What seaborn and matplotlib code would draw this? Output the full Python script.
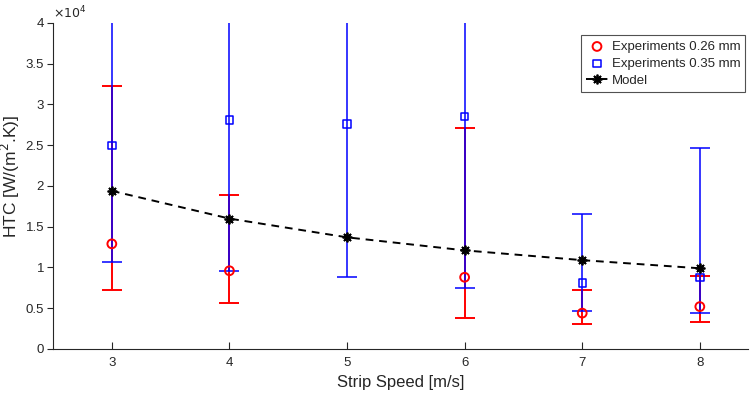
import numpy as np
import pandas as pd
import matplotlib
matplotlib.use("Agg")
import matplotlib.pyplot as plt
import seaborn as sns

# ---- data (HTC values in W/(m^2.K)) ----
speed = [3, 4, 5, 6, 7, 8]

exp026 = [12900, 9600, np.nan, 8800, 4400, 5200]
exp026_low = [7200, 5700, np.nan, 3800, 3100, 3300]
exp026_high = [32300, 18900, np.nan, 27100, 7200, 9000]

exp035 = [25000, 28100, 27600, 28500, 8100, 8800]
exp035_low = [10700, 9600, 8800, 7500, 4700, 4400]
exp035_high = [45000, 45000, 45000, 45000, 16600, 24700]

model = [19400, 16000, 13700, 12100, 10900, 9900]

yticks = [0, 0.5, 1, 1.5, 2, 2.5, 3, 3.5, 4]

sns.set_theme(style="white")
plt.rcParams['font.family'] = ['Liberation Sans', 'DejaVu Sans']

fig = plt.figure(figsize=(7.5, 3.95), dpi=100)
ax = fig.add_axes([0.0707, 0.1165, 0.9267, 0.8253])

s = np.array(speed, dtype=float)
e1 = np.array(exp026); e2 = np.array(exp035)
err1 = np.vstack([e1 - np.array(exp026_low), np.array(exp026_high) - e1])
err2 = np.vstack([e2 - np.array(exp035_low), np.array(exp035_high) - e2])

red = '#ff0000'
blue = '#0000ff'

ax.errorbar(s, e1, yerr=err1, fmt='none', ecolor=red, elinewidth=1.4,
            capsize=7.5, capthick=1.4, zorder=2)
ax.errorbar(s, e2, yerr=err2, fmt='none', ecolor=blue, elinewidth=1.1,
            capsize=7.5, capthick=1.1, zorder=3)

df1 = pd.DataFrame({'speed': speed, 'htc': exp026})
df2 = pd.DataFrame({'speed': speed, 'htc': exp035})
dfm = pd.DataFrame({'speed': speed, 'htc': model})

sns.scatterplot(data=df1, x='speed', y='htc', ax=ax, marker='o', s=40,
                facecolor='none', edgecolor=red, linewidth=1.4,
                label='Experiments 0.26 mm', zorder=4)
sns.scatterplot(data=df2, x='speed', y='htc', ax=ax, marker='s', s=28,
                facecolor='none', edgecolor=blue, linewidth=1.1,
                label='Experiments 0.35 mm', zorder=4)
sns.lineplot(data=dfm, x='speed', y='htc', ax=ax, color='black',
             linestyle=(0, (4, 3)), linewidth=1.4, marker=(8, 2, 0),
             markersize=7, markeredgewidth=1.3, markeredgecolor='black',
             label='Model', zorder=5)

ax.set_xlim(2.5, 8.41)
ax.set_ylim(0, 40000)
ax.set_xticks(speed)
ax.set_xticklabels([str(v) for v in speed])
ax.set_yticks([v * 1e4 for v in yticks])
ax.set_yticklabels([('%g' % v) for v in yticks])

tc = '#262626'
ax.tick_params(axis='x', direction='in', length=5, width=0.8, colors=tc,
               labelsize=9.5, pad=6, bottom=True)
ax.tick_params(axis='y', direction='out', length=4.5, width=0.8, colors=tc,
               labelsize=9.5, pad=2, left=True)
for side in ['top', 'right']:
    ax.spines[side].set_visible(False)
for side in ['left', 'bottom']:
    ax.spines[side].set_color(tc)
    ax.spines[side].set_linewidth(0.8)

ax.set_xlabel('Strip Speed [m/s]', fontsize=12, color=tc, labelpad=4)
ax.set_ylabel(r'HTC [W/(m$^2$.K)]', fontsize=12.5, color=tc)
ax.yaxis.set_label_coords(-0.045, 0.53)
ax.text(0.0, 1.005, r'$\times10^4$', transform=ax.transAxes, fontsize=9,
        color=tc, ha='left', va='bottom')

leg = ax.legend(loc='upper right', bbox_to_anchor=(1.0, 0.97), fontsize=9.5,
                frameon=True, fancybox=False, handlelength=1.6,
                borderpad=0.4, labelspacing=0.35, handletextpad=0.3,
                borderaxespad=0.2)
leg.get_frame().set_edgecolor('#262626')
leg.get_frame().set_linewidth(0.8)

fig.savefig('out.png', dpi=100)
